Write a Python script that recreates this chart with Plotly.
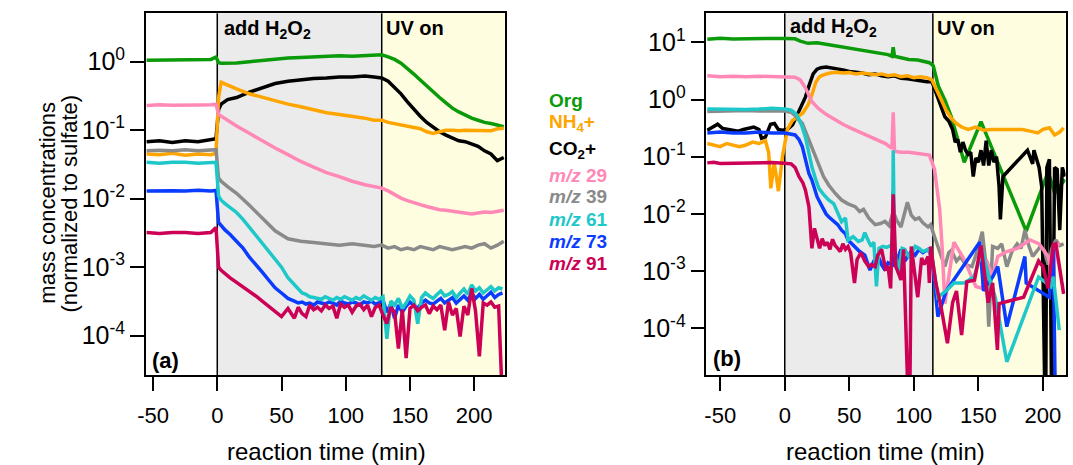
import plotly.graph_objects as go

# ---------------- panel (a) data ----------------
t_a_smooth = [-55, -45, -35, -25, -15, -5, -1, 1, 3, 8,
              15, 25, 35, 45, 55, 65, 75, 85, 95, 105,
              115, 122, 128, 133, 138, 143, 148, 153, 158, 163,
              168, 173, 178, 183, 188, 193, 198, 203, 208, 213,
              218, 223]
org_a = [1.05, 1.06, 1.05, 1.06, 1.07, 1.08, 1.17, 0.97, 0.95, 0.95,
         0.96, 1.0, 1.04, 1.1, 1.13, 1.15, 1.17, 1.2, 1.22, 1.2,
         1.24, 1.25, 1.26, 1.18, 1.08, 0.95, 0.8, 0.66, 0.54, 0.44,
         0.36, 0.3, 0.25, 0.21, 0.185, 0.165, 0.15, 0.14, 0.13, 0.125,
         0.118, 0.113]
nh4_a = [0.045, 0.044, 0.046, 0.043, 0.045, 0.044, 0.046, 0.3, 0.5, 0.45,
         0.4, 0.34, 0.3, 0.27, 0.24, 0.22, 0.2, 0.18, 0.17, 0.16,
         0.15, 0.14, 0.14, 0.13, 0.125, 0.12, 0.115, 0.11, 0.105, 0.095,
         0.09, 0.095, 0.1, 0.1, 0.098, 0.1, 0.1, 0.1, 0.1, 0.098,
         0.105, 0.107]
co2_a = [0.068, 0.07, 0.066, 0.07, 0.068, 0.072, 0.075, 0.2, 0.24, 0.28,
         0.3, 0.36, 0.42, 0.48, 0.52, 0.55, 0.57, 0.58, 0.6, 0.6,
         0.62, 0.6, 0.58, 0.52, 0.42, 0.34, 0.26, 0.2, 0.16, 0.13,
         0.11, 0.095, 0.085, 0.078, 0.07, 0.068, 0.062, 0.058, 0.05, 0.045,
         0.036, 0.04]
m29_a = [0.23, 0.235, 0.232, 0.23, 0.233, 0.235, 0.238, 0.17, 0.16, 0.14,
         0.115, 0.09, 0.07, 0.055, 0.044, 0.035, 0.029, 0.024, 0.021, 0.018,
         0.016, 0.015, 0.0143, 0.013, 0.0115, 0.0102, 0.0094, 0.0087, 0.0082, 0.0077,
         0.0072, 0.0069, 0.0068, 0.0066, 0.0065, 0.0062, 0.006, 0.0062, 0.0064, 0.0063,
         0.0065, 0.0068]
m39_a = [0.05, 0.051, 0.05, 0.052, 0.05, 0.051, 0.052, 0.02, 0.018, 0.015,
         0.012, 0.008, 0.0052, 0.0034, 0.0026, 0.0024, 0.0023, 0.0022, 0.0021, 0.0022,
         0.0021, 0.002, 0.0021, 0.0019, 0.002, 0.0018, 0.0019, 0.0018, 0.002, 0.0019,
         0.0018, 0.002, 0.0019, 0.0018, 0.0019, 0.002, 0.0019, 0.0021, 0.0022, 0.0019,
         0.0021, 0.0024]

t_a_noisy = [-55, -45, -35, -25, -15, -5, -1, 1, 3, 6,
             10, 15, 20, 25, 30, 35, 40, 45, 50, 55,
             60, 63, 66, 69, 72, 75, 78, 81, 84, 87,
             90, 93, 96, 99, 102, 105, 108, 111, 114, 117,
             120, 123, 126, 129, 132, 135, 138, 141, 144, 147,
             150, 153, 156, 159, 162, 165, 168, 171, 174, 177,
             180, 183, 186, 189, 192, 195, 198, 201, 204, 207,
             210, 213, 216, 219, 222]
m61_a = [0.034, 0.033, 0.034, 0.034, 0.033, 0.034, 0.034, 0.011, 0.0095, 0.0085,
         0.0075, 0.0063, 0.005, 0.0038, 0.0029, 0.0022, 0.0017, 0.0013, 0.001, 0.0007,
         0.00055, 0.00048, 0.00042, 0.0004, 0.00037, 0.00036, 0.00035, 0.00034, 0.00037, 0.00035,
         0.00033, 0.00036, 0.00034, 0.00037, 0.00035, 0.00033, 0.00036, 0.00034, 0.00038, 0.00035,
         0.00033, 0.00036, 0.00034, 0.00037, 0.00009, 0.00032, 0.00028, 0.00035, 0.00025, 0.0003,
         0.00038, 0.00033, 0.00015, 0.00036, 0.00042, 0.00038, 0.00035, 0.0004, 0.00045, 0.00038,
         0.0004, 0.00044, 0.00036, 0.00042, 0.00048, 0.0004, 0.00055, 0.00045, 0.0005, 0.00042,
         0.00047, 0.00052, 0.00045, 0.0005, 0.00048]
m73_a = [0.013, 0.0132, 0.0131, 0.013, 0.0133, 0.013, 0.0132, 0.0045, 0.004, 0.0035,
         0.003, 0.0024, 0.0019, 0.0014, 0.0011, 0.00085, 0.00065, 0.0005, 0.00042, 0.00035,
         0.00032, 0.0003, 0.00031, 0.00029, 0.0003, 0.00028, 0.00031, 0.0003, 0.00029, 0.00031,
         0.0003, 0.00028, 0.00032, 0.0003, 0.00029, 0.00031, 0.0003, 0.00028, 0.00031, 0.0003,
         0.00032, 0.00029, 0.0003, 0.00033, 0.00022, 0.00029, 0.00018, 0.00028, 0.00022, 0.00027,
         0.00031, 0.00028, 0.00025, 0.0003, 0.00033, 0.0003, 0.00029, 0.00032, 0.00035, 0.0003,
         0.00033, 0.00036, 0.0003, 0.00034, 0.00038, 0.00033, 0.00042, 0.00035, 0.0004, 0.00034,
         0.00038, 0.00043, 0.00036, 0.0004, 0.00042]
m91_a = [0.0032, 0.0031, 0.0032, 0.0032, 0.0031, 0.0032, 0.0038, 0.001, 0.0009, 0.0008,
         0.0007, 0.0006, 0.00052, 0.00045, 0.00038, 0.00032, 0.00027, 0.00022, 0.00019, 0.00025,
         0.00018, 0.00026, 0.00021, 0.00019, 0.00028, 0.00024, 0.00026, 0.00023, 0.00028, 0.00025,
         0.00027, 0.00018, 0.00029, 0.00026, 0.00028, 0.00022, 0.00027, 0.00029, 0.00024, 0.00028,
         0.00019, 0.00026, 0.00028, 0.0002, 0.00015, 0.00026, 0.00022, 0.000065, 0.00024, 0.000047,
         0.00025, 0.00028, 0.00023, 0.00026, 0.00028, 0.00021, 0.00027, 0.00024, 0.00028, 0.00012,
         0.00031, 0.0002, 0.00025, 0.000097, 0.00027, 0.0002, 0.00049, 0.00023, 0.00005, 0.0003,
         0.00028, 0.00031, 0.00026, 0.00027, 0.00001]

# ---------------- panel (b) data ----------------
t_b_org = [-60, -50, -40, -30, -20, -10, 0, 8, 12, 18,
           25, 32, 39, 46, 53, 60, 67, 74, 80, 83,
           84, 85, 90, 96, 103, 108, 112, 115, 119, 124,
           129, 134, 139, 152, 187, 204, 209, 217]
org_b = [11.3, 11.8, 11.4, 11.6, 11.5, 11.7, 11.6, 11.5, 10.5, 9.6,
         9.8, 9.2, 8.6, 8.2, 7.6, 7.2, 6.9, 6.4, 6.1, 5.7,
         8.2, 5.7, 5.3, 5.0, 4.9, 4.6, 4.4, 3.9, 1.7, 0.98,
         0.5, 0.2, 0.08, 0.41, 0.005, 0.055, 0.023, 0.04]

t_b_nh4 = [-60, -55, -50, -45, -40, -35, -30, -25, -20, -15,
           -12.5, -10.8, -8.2, -4.9, -1.8, 2, 6, 10, 14, 18,
           21, 24, 27, 30, 35, 40, 45, 50, 55, 60,
           65, 70, 75, 80, 85, 90, 95, 100, 105, 110,
           114, 118, 121, 125, 129, 133, 137, 142, 148, 154,
           160, 166, 172, 178, 184, 190, 196, 200, 205, 209,
           213, 216]
nh4_b = [0.17, 0.16, 0.15, 0.17, 0.16, 0.15, 0.16, 0.18, 0.17, 0.19,
         0.12, 0.028, 0.08, 0.025, 0.1, 0.3, 0.43, 0.5, 0.58, 0.8,
         1.2, 2.0, 2.5, 2.7, 2.9, 3.0, 2.9, 2.95, 2.8, 2.9,
         2.8, 2.7, 2.8, 2.6, 2.7, 2.5, 2.6, 2.4, 2.5, 2.4,
         2.2, 1.4, 0.98, 0.65, 0.47, 0.38, 0.33, 0.3, 0.33, 0.29,
         0.3, 0.3, 0.31, 0.3, 0.3, 0.28, 0.26, 0.3, 0.32, 0.24,
         0.27, 0.32]

t_b_co2 = [-60, -56, -52, -48, -44, -40, -36, -32, -28, -24,
           -20, -18, -15, -11, -8, -5, -2, 2, 6, 10,
           13, 16, 19, 22, 25, 28, 32, 36, 40, 45,
           50, 55, 60, 65, 70, 75, 80, 85, 90, 95,
           100, 105, 110, 114, 118, 121, 124, 127, 130, 132,
           134, 136, 138, 140, 142, 144, 146, 148, 150, 152,
           154, 156, 158, 160, 162, 164, 166, 167, 169, 188,
           190, 192, 193, 195, 197, 199, 202, 203, 205, 207,
           209, 211, 213, 215, 217]
co2_b = [0.29, 0.33, 0.37, 0.31, 0.3, 0.29, 0.28, 0.3, 0.31, 0.33,
         0.3, 0.21, 0.22, 0.37, 0.38, 0.3, 0.29, 0.3, 0.36, 0.55,
         0.75, 1.1, 1.8, 2.8, 3.4, 3.6, 3.7, 3.6, 3.4, 3.3,
         3.1, 3.0, 2.9, 2.7, 2.8, 2.6, 2.5, 2.6, 2.35, 2.3,
         2.2, 2.1, 2.05, 2.05, 1.2, 0.75, 0.5, 0.42, 0.3, 0.18,
         0.2, 0.12, 0.18, 0.13, 0.11, 0.12, 0.045, 0.095, 0.08, 0.13,
         0.07, 0.19, 0.07, 0.13, 0.08, 0.1, 0.03, 0.008, 0.045, 0.13,
         0.1, 0.075, 0.13, 0.09, 0.065, 0.03, 0.000001, 0.065, 0.09, 0.000001,
         0.065, 0.06, 0.0052, 0.065, 0.045]

t_b_m29 = [-60, -50, -40, -30, -20, -10, 0, 8, 12, 16,
           21, 26, 32, 39, 45, 52, 58, 65, 72, 78,
           83, 84, 85, 90, 96, 103, 108, 112, 116, 118,
           120, 122, 124, 131, 139, 148, 153, 156, 161, 165,
           172, 180, 190, 197, 204, 208, 210, 213]
m29_b = [2.6, 2.5, 2.55, 2.5, 2.55, 2.5, 2.5, 2.45, 2.2, 1.6,
         0.92, 0.7, 0.55, 0.44, 0.37, 0.31, 0.27, 0.225, 0.19, 0.17,
         0.14, 0.6, 0.125, 0.12, 0.12, 0.115, 0.11, 0.107, 0.06, 0.03,
         0.012, 0.0024, 0.00027, 0.0032, 0.0016, 0.00054, 0.0005, 0.0016, 0.0008, 0.0018,
         0.0022, 0.0025, 0.0035, 0.003, 0.0018, 0.0008, 0.0029, 0.003]

t_b_m39 = [-60, -50, -40, -30, -20, -10, 0, 5, 9, 13.6,
           18.7, 22, 26, 30, 34, 39, 44, 49, 54.5, 58,
           61, 65, 70, 74, 77.6, 81, 84, 87, 90, 93,
           95, 98, 101, 104, 107, 111, 113, 116, 118.6, 121,
           124, 127, 129, 133, 136, 140, 145, 149, 153, 156,
           158, 161, 165, 168, 172, 176, 180, 183, 186, 189,
           192, 195, 198, 201, 204, 207, 210, 213, 216]
m39_b = [0.62, 0.63, 0.62, 0.64, 0.63, 0.64, 0.63, 0.6, 0.5, 0.38,
         0.2, 0.13, 0.075, 0.045, 0.032, 0.023, 0.0175, 0.015, 0.0134, 0.011,
         0.012, 0.0085, 0.0065, 0.0068, 0.0074, 0.0062, 0.011, 0.0075, 0.0059, 0.01,
         0.016, 0.0095, 0.008, 0.0085, 0.007, 0.0059, 0.0065, 0.004, 0.0027, 0.0018,
         0.0012, 0.0021, 0.0023, 0.0015, 0.0018, 0.0013, 0.0012, 0.0022, 0.0049, 0.0012,
         0.000107, 0.0027, 0.0025, 0.003, 0.0012, 0.0022, 0.003, 0.0025, 0.0052, 0.0028,
         0.0018, 0.0022, 0.0027, 0.0023, 0.0013, 0.0025, 0.0035, 0.0028, 0.003]

t_b_m61 = [-60, -50, -40, -30, -20, -10, 0, 5, 9, 13,
           16, 19, 21, 24, 26.4, 30, 34, 38, 41, 44,
           47, 49, 53, 57, 60, 62, 65, 67, 69, 71,
           73, 76, 79, 82, 83.5, 84, 85, 88, 91, 93,
           96, 99, 101, 104, 107, 111, 114, 118.6, 125, 131,
           139, 146.6, 153, 158, 163, 172, 196.6, 203, 206, 208,
           212.6]
m61_b = [0.68, 0.67, 0.68, 0.67, 0.68, 0.7, 0.68, 0.65, 0.55, 0.36,
         0.22, 0.11, 0.067, 0.04, 0.028, 0.022, 0.0175, 0.015, 0.01, 0.0073,
         0.0085, 0.0035, 0.004, 0.0033, 0.0035, 0.0047, 0.0033, 0.0027, 0.0032, 0.00054,
         0.0025, 0.0027, 0.0026, 0.0028, 0.0024, 0.13, 0.0024, 0.00093, 0.0025, 0.0024,
         0.0018, 0.0022, 0.0027, 0.0025, 0.0022, 0.0024, 0.0018, 0.00035, 0.00045, 0.00062,
         0.00062, 0.0008, 0.0023, 0.0008, 0.00035, 0.000026, 0.00079, 0.0006, 0.00054, 0.0008,
         0.000093]

t_b_m73 = [-60, -50, -40, -30, -20, -10, 0, 5, 8, 11,
           13.6, 16, 18.7, 21, 25, 29, 32, 34, 38, 41,
           44, 47, 49, 52, 54, 58, 62, 66, 69, 72,
           75, 77.6, 80, 83, 84, 85, 88, 90, 93, 95,
           98, 101, 104, 107, 111, 114, 118.6, 125, 151, 154,
           157, 161, 165, 172, 186, 187, 205, 208, 210]
m73_b = [0.26, 0.27, 0.26, 0.26, 0.27, 0.26, 0.26, 0.25, 0.24, 0.2,
         0.15, 0.09, 0.051, 0.039, 0.02, 0.0134, 0.01, 0.0089, 0.0075, 0.0065,
         0.0052, 0.0045, 0.0035, 0.003, 0.0027, 0.0022, 0.0019, 0.00104, 0.0015, 0.0019,
         0.0013, 0.00104, 0.0014, 0.0013, 0.025, 0.0012, 0.0018, 0.0024, 0.0015, 0.0018,
         0.0022, 0.0019, 0.0024, 0.0021, 0.0024, 0.0018, 0.00016, 0.00045, 0.0032, 0.00045,
         0.0006, 0.00079, 0.0012, 0.000107, 0.0018, 0.00062, 0.00035, 0.0024, 0.000001]

t_b_m91 = [-60, -55, -50, -40, -30, -20, -10, 0, 5, 8,
           11, 14, 16, 18.7, 21, 23, 25, 27, 29, 31,
           33, 35, 37, 39, 41, 43, 45, 47, 49, 51,
           54, 56, 59, 62, 65, 67, 70, 72, 75, 78,
           80, 82, 84, 86, 88, 90, 92, 96.5, 98, 100,
           103, 106, 108, 111, 112, 113, 114.7, 117, 121, 126,
           130, 133, 137, 141, 147, 152, 157.6, 161, 164.7, 166,
           185, 196.6, 200, 204, 208, 210, 216]
m91_b = [0.078, 0.08, 0.076, 0.077, 0.078, 0.077, 0.079, 0.077, 0.075, 0.065,
         0.045, 0.035, 0.026, 0.0134, 0.0025, 0.0056, 0.0035, 0.0025, 0.0037, 0.0028,
         0.0032, 0.0024, 0.0036, 0.0028, 0.0025, 0.0022, 0.003, 0.0024, 0.0027, 0.0021,
         0.00062, 0.0016, 0.0021, 0.0015, 0.0012, 0.0013, 0.0012, 0.0019, 0.0024, 0.0011,
         0.0012, 0.0005, 0.022, 0.0012, 0.00093, 0.0007, 0.0024, 0.000001, 0.0027, 0.0012,
         0.00035, 0.0017, 0.0013, 0.0018, 0.00062, 0.0027, 0.0015, 0.00062, 0.00024, 0.000055,
         0.00028, 0.00045, 0.000076, 0.00065, 0.0007, 0.0028, 0.00028, 0.00062, 0.000042, 0.00027,
         0.00035, 0.0015, 0.0012, 0.0005, 0.0029, 0.003, 0.0004]

# ---------------- labels / settings ----------------
legend_labels = ["Org", "NH<sub>4</sub>+", "CO<sub>2</sub>+", "<i>m/z</i> 29",
                 "<i>m/z</i> 39", "<i>m/z</i> 61", "<i>m/z</i> 73", "<i>m/z</i> 91"]
colors = {"org": "#0a9a0a", "nh4": "#ffa500", "co2": "#000000", "m29": "#ff88b6",
          "m39": "#8a8a8a", "m61": "#1ec8c8", "m73": "#0a3cff", "m91": "#cc0055"}
x_tickvals = [-50, 0, 50, 100, 150, 200]
x_ticktext = ["-50", "0", "50", "100", "150", "200"]
ya_tickvals = [1, 0.1, 0.01, 0.001, 0.0001]
ya_ticktext = ["10<sup>0</sup>", "10<sup>-1</sup>", "10<sup>-2</sup>", "10<sup>-3</sup>", "10<sup>-4</sup>"]
yb_tickvals = [10, 1, 0.1, 0.01, 0.001, 0.0001]
yb_ticktext = ["10<sup>1</sup>"] + ya_ticktext

UV_A = 128
UV_B = 114.7
XR_A = [-55.6, 223.8]
XR_B = [-60.7, 217.5]
YR_A = [-4.574, 0.707]
YR_B = [-4.816, 1.507]

W, H = 1073, 465
FONT = "Arial, 'Liberation Sans', sans-serif"
LW = 3.5

fig = go.Figure()

def add(x, y, key, xa, ya):
    fig.add_trace(go.Scatter(x=x, y=y, mode="lines", xaxis=xa, yaxis=ya,
                             line=dict(color=colors[key], width=LW), showlegend=False,
                             hoverinfo="skip"))

# panel a traces (draw order)
add(t_a_smooth, org_a, "org", "x", "y")
add(t_a_smooth, co2_a, "co2", "x", "y")
add(t_a_smooth, nh4_a, "nh4", "x", "y")
add(t_a_smooth, m39_a, "m39", "x", "y")
add(t_a_smooth, m29_a, "m29", "x", "y")
add(t_a_noisy, m73_a, "m73", "x", "y")
add(t_a_noisy, m61_a, "m61", "x", "y")
add(t_a_noisy, m91_a, "m91", "x", "y")
# panel b traces
add(t_b_org, org_b, "org", "x2", "y2")
add(t_b_co2, co2_b, "co2", "x2", "y2")
add(t_b_nh4, nh4_b, "nh4", "x2", "y2")
add(t_b_m39, m39_b, "m39", "x2", "y2")
add(t_b_m29, m29_b, "m29", "x2", "y2")
add(t_b_m73, m73_b, "m73", "x2", "y2")
add(t_b_m61, m61_b, "m61", "x2", "y2")
add(t_b_m91, m91_b, "m91", "x2", "y2")

shapes = []
for xr, yr, uv, xend in (("x", "y domain", UV_A, XR_A[1]), ("x2", "y2 domain", UV_B, XR_B[1])):
    shapes.append(dict(type="rect", xref=xr, yref=yr, x0=0, x1=uv, y0=0, y1=1,
                       fillcolor="#ebebeb", line=dict(width=0), layer="below"))
    shapes.append(dict(type="rect", xref=xr, yref=yr, x0=uv, x1=xend, y0=0, y1=1,
                       fillcolor="#fefde0", line=dict(width=0), layer="below"))
    for xv in (0, uv):
        shapes.append(dict(type="line", xref=xr, yref=yr, x0=xv, x1=xv, y0=0, y1=1,
                           line=dict(color="black", width=1.5), layer="below"))

def px(x):
    return x / W

def py(y):
    return 1 - y / H

ann = []
def text(x, y, s, size, xanchor="left", color="black", angle=0):
    ann.append(dict(x=px(x), y=py(y), xref="paper", yref="paper", text=s, showarrow=False,
                    xanchor=xanchor, yanchor="middle", textangle=angle,
                    font=dict(family=FONT, size=size, color=color)))

leg_keys = ["org", "nh4", "co2", "m29", "m39", "m61", "m73", "m91"]
leg_y = [100, 123, 150, 176, 197, 219, 241, 263]
for k, lab, yy in zip(leg_keys, legend_labels, leg_y):
    text(543, yy, "<b>" + lab + "</b>", 19, color=colors[k])

text(215, 29, "<b>add H<sub>2</sub>O<sub>2</sub></b>", 20)
text(378, 28, "<b>UV on</b>", 20)
text(786, 28, "<b>add H<sub>2</sub>O<sub>2</sub></b>", 20)
text(934, 28, "<b>UV on</b>", 20)
text(142, 360, "<b>(a)</b>", 22)
text(708, 358, "<b>(b)</b>", 22)
text(320, 451, "reaction time (min)", 24, xanchor="center")
text(884, 451, "reaction time (min)", 24, xanchor="center")
text(39, 203, "mass concentrations", 22, xanchor="center", angle=-90)
text(62, 203, "(normalized to sulfate)", 22, xanchor="center", angle=-90)

axis_common = dict(showgrid=False, zeroline=False, showline=True, mirror=True,
                   linecolor="black", linewidth=1.5, ticks="outside", ticklen=14,
                   tickwidth=1.5, tickcolor="black")

fig.update_layout(
    width=W, height=H, autosize=False,
    margin=dict(l=0, r=0, t=0, b=0),
    paper_bgcolor="white", plot_bgcolor="white",
    font=dict(family=FONT, color="black"),
    showlegend=False,
    xaxis=dict(domain=[138 / W, 500 / W], range=XR_A, anchor="y", tickmode="array",
               tickvals=x_tickvals, ticktext=x_ticktext, tickfont=dict(size=22),
               ticklabelstandoff=6, **axis_common),
    yaxis=dict(domain=[1 - 375 / H, 1 - 13.3 / H], type="log", range=YR_A, anchor="x",
               tickmode="array", tickvals=ya_tickvals, ticktext=ya_ticktext,
               tickfont=dict(size=25), **axis_common),
    xaxis2=dict(domain=[703.3 / W, 1065.5 / W], range=XR_B, anchor="y2", tickmode="array",
                tickvals=x_tickvals, ticktext=x_ticktext, tickfont=dict(size=22),
                ticklabelstandoff=6, **axis_common),
    yaxis2=dict(domain=[1 - 375 / H, 1 - 13.3 / H], type="log", range=YR_B, anchor="x2",
                tickmode="array", tickvals=yb_tickvals, ticktext=yb_ticktext,
                tickfont=dict(size=25), **axis_common),
    shapes=shapes,
    annotations=ann,
)

fig.write_html("out.html")
